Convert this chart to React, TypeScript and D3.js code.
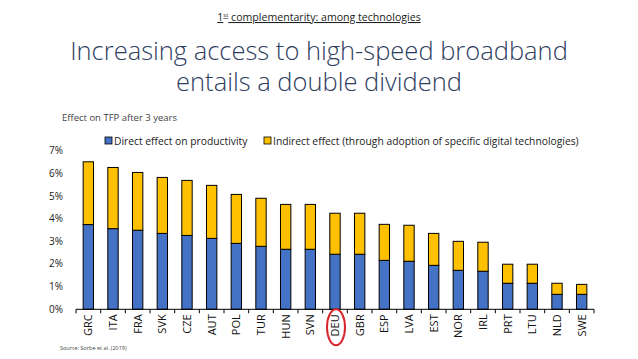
import { useEffect, useRef } from "react";
import * as d3 from "d3";

const COUNTRIES = [
  "GRC", "ITA", "FRA", "SVK", "CZE", "AUT", "POL", "TUR", "HUN", "SVN", "DEU",
  "GBR", "ESP", "LVA", "EST", "NOR", "IRL", "PRT", "LTU", "NLD", "SWE",
];
// direct effect on productivity (% TFP)
const DIRECT = [
  3.74, 3.56, 3.49, 3.35, 3.26, 3.13, 2.91, 2.78, 2.65, 2.65, 2.43,
  2.43, 2.16, 2.12, 1.94, 1.72, 1.68, 1.15, 1.15, 0.66, 0.66,
];
// total effect (direct + indirect)
const TOTAL = [
  6.51, 6.26, 6.04, 5.82, 5.69, 5.47, 5.07, 4.9, 4.63, 4.63, 4.24,
  4.24, 3.75, 3.71, 3.35, 3.0, 2.96, 1.99, 1.99, 1.15, 1.1,
];
const Y_TICKS = [0, 1, 2, 3, 4, 5, 6, 7];
const SERIES = [
  "Direct effect on productivity",
  "Indirect effect (through adoption of specific digital technologies)",
];
const HIGHLIGHT = "DEU";

const W = 638;
const H = 359;
const plot = { left: 76, right: 594, top: 150.7, bottom: 309.3 };
const FONT = "'Open Sans', 'Liberation Sans', sans-serif";

export default function App() {
  const ref = useRef<SVGSVGElement>(null);

  useEffect(() => {
    const svg = d3.select(ref.current);
    svg.selectAll("*").remove();

    const data = COUNTRIES.map((c, i) => ({
      country: c,
      direct: DIRECT[i],
      indirect: TOTAL[i] - DIRECT[i],
    }));

    // headings
    const sub = svg
      .append("text")
      .attr("x", W / 2)
      .attr("y", 21)
      .attr("text-anchor", "middle")
      .attr("font-family", FONT)
      .attr("font-size", 10.6)
      .attr("fill", "#222")
      .attr("text-decoration", "underline");
    sub.append("tspan").text("1");
    sub.append("tspan").attr("font-size", 6).attr("dy", -4).text("st");
    sub.append("tspan").attr("dy", 4).text(" complementarity: among technologies");

    svg
      .selectAll("text.title")
      .data(["Increasing access to high-speed broadband", "entails a double dividend"])
      .join("text")
      .attr("class", "title")
      .attr("x", W / 2)
      .attr("y", (_, i) => 60 + i * 31)
      .attr("text-anchor", "middle")
      .attr("font-family", FONT)
      .attr("font-weight", 300)
      .attr("font-size", 25.5)
      .attr("fill", "#2e3e60")
      .text((d) => d);

    svg
      .append("text")
      .attr("x", 62)
      .attr("y", 121)
      .attr("font-family", FONT)
      .attr("font-size", 9.5)
      .attr("fill", "#444")
      .text("Effect on TFP after 3 years");

    const x = d3
      .scaleBand()
      .domain(COUNTRIES)
      .range([plot.left, plot.right])
      .paddingInner(0.58)
      .paddingOuter(0.29);
    const y = d3.scaleLinear().domain([0, 7]).range([plot.bottom, plot.top]);

    const stack = d3.stack<any>().keys(["direct", "indirect"])(data);
    const colors = ["#4472c4", "#ffc000"];

    svg
      .append("g")
      .selectAll("g")
      .data(stack)
      .join("g")
      .attr("fill", (_, i) => colors[i])
      .selectAll("rect")
      .data((d) => d)
      .join("rect")
      .attr("x", (d) => x(d.data.country)!)
      .attr("width", x.bandwidth())
      .attr("y", (d) => y(d[1]))
      .attr("height", (d) => y(d[0]) - y(d[1]))
      .attr("stroke", "#000")
      .attr("stroke-width", 1);

    // y tick labels (no axis line)
    svg
      .append("g")
      .selectAll("text")
      .data(Y_TICKS)
      .join("text")
      .attr("x", 63)
      .attr("y", (d) => y(d) + 3.5)
      .attr("text-anchor", "end")
      .attr("font-family", FONT)
      .attr("font-size", 10)
      .attr("fill", "#222")
      .text((d) => `${d}%`);

    // x axis: ticks on band boundaries
    const step = x.step();
    const gx = svg.append("g").attr("stroke", "#000");
    gx.append("line")
      .attr("x1", plot.left)
      .attr("x2", plot.right)
      .attr("y1", plot.bottom)
      .attr("y2", plot.bottom);
    gx.selectAll("line.tick")
      .data(d3.range(COUNTRIES.length + 1))
      .join("line")
      .attr("class", "tick")
      .attr("x1", (i) => plot.left + i * step)
      .attr("x2", (i) => plot.left + i * step)
      .attr("y1", plot.bottom)
      .attr("y2", plot.bottom + 4);

    svg
      .append("g")
      .selectAll("text")
      .data(COUNTRIES)
      .join("text")
      .attr(
        "transform",
        (d) => `translate(${x(d)! + x.bandwidth() / 2 + 4},${plot.bottom + 5}) rotate(-90)`
      )
      .attr("text-anchor", "end")
      .attr("font-family", FONT)
      .attr("font-size", 11)
      .attr("fill", "#111")
      .text((d) => d);

    // circled country
    svg
      .append("ellipse")
      .attr("cx", x(HIGHLIGHT)! + x.bandwidth() / 2 + 1)
      .attr("cy", plot.bottom + 18)
      .attr("rx", 9)
      .attr("ry", 18)
      .attr("fill", "none")
      .attr("stroke", "#d9262c")
      .attr("stroke-width", 2);

    // legend
    const lg = svg
      .append("g")
      .selectAll("g")
      .data(SERIES)
      .join("g")
      .attr("transform", (_, i) => `translate(${i === 0 ? 105 : 264},141)`);
    lg.append("rect")
      .attr("x", 0)
      .attr("y", -4)
      .attr("width", 7)
      .attr("height", 7)
      .attr("fill", (_, i) => colors[i])
      .attr("stroke", "#000")
      .attr("stroke-width", 0.8);
    lg.append("text")
      .attr("x", 9)
      .attr("y", 3.5)
      .attr("font-family", FONT)
      .attr("font-size", 10.3)
      .attr("fill", "#222")
      .text((d) => d);

    svg
      .append("text")
      .attr("x", 60)
      .attr("y", 350)
      .attr("font-family", FONT)
      .attr("font-size", 5.5)
      .attr("fill", "#444")
      .text("Source: Sorbe et al. (2019)");
  }, []);

  return (
    <svg
      ref={ref}
      width={W}
      height={H}
      style={{ position: "absolute", left: 0, top: 0, background: "#fff" }}
    />
  );
}
